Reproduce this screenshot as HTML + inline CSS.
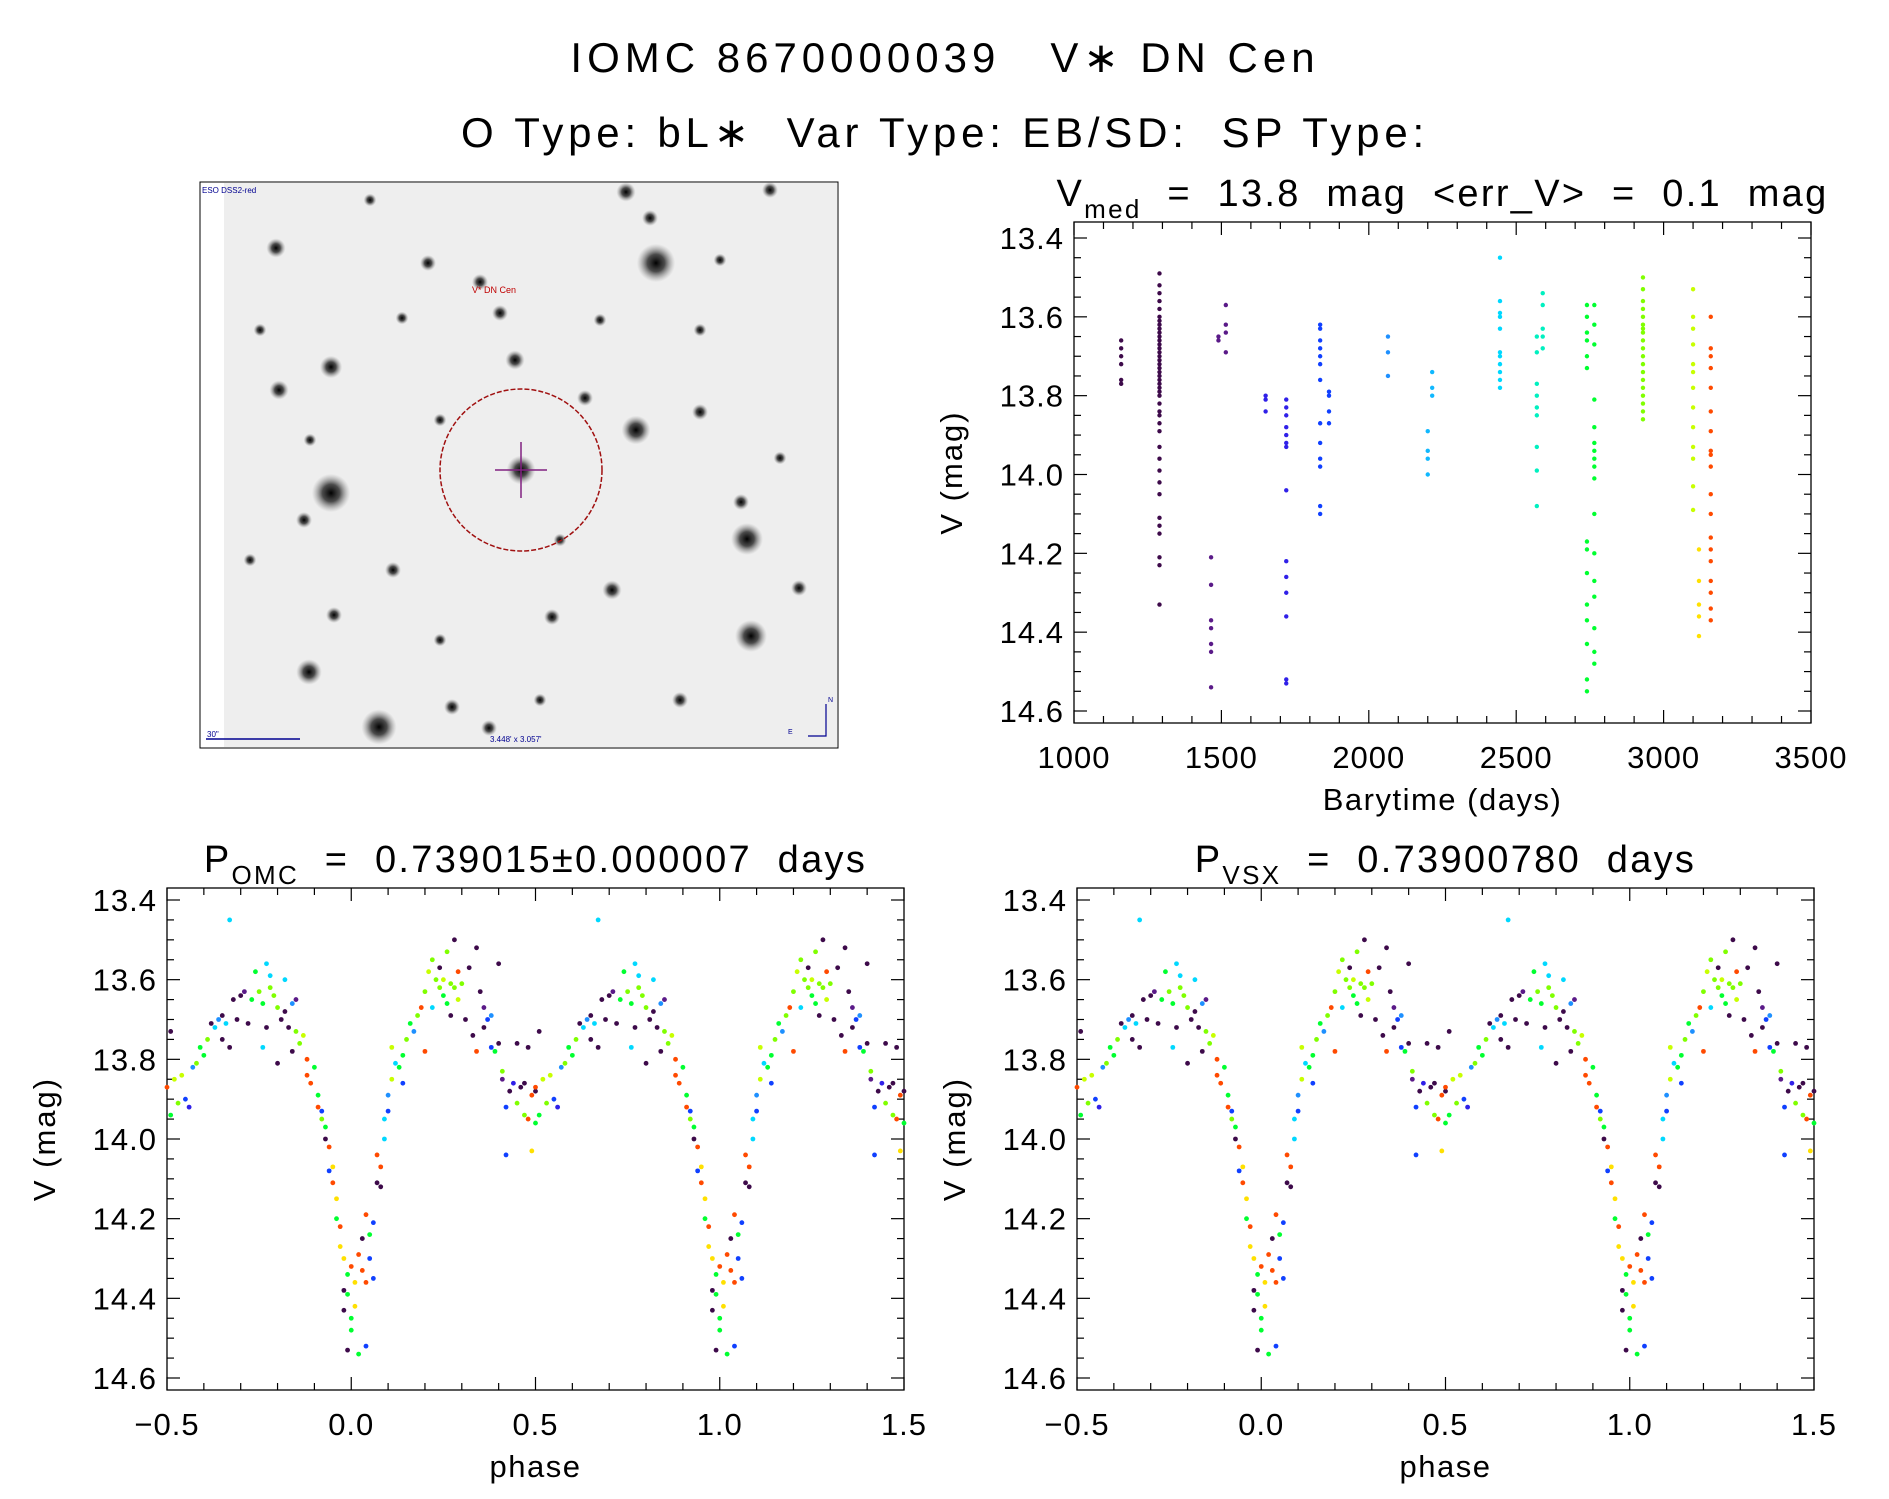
<!DOCTYPE html>
<html><head><meta charset="utf-8"><style>
body{margin:0;background:#fff;}
svg text{font-family:"Liberation Sans",sans-serif;fill:#000;}
</style></head><body>
<svg id="fig" width="1889" height="1494" viewBox="0 0 1889 1494" xmlns="http://www.w3.org/2000/svg">
<text x="945" y="72" font-size="42" letter-spacing="5" text-anchor="middle" xml:space="preserve">IOMC 8670000039   V∗ DN Cen</text>
<text x="945" y="147" font-size="42" letter-spacing="4.8" text-anchor="middle" xml:space="preserve">O Type: bL∗  Var Type: EB/SD:  SP Type:</text>
<g id="img"></g>
<g id="tr"></g>
<g id="bl"></g>
<g id="br"></g>
</svg>
<script>
const palette=["#3d0a4a","#5a1a88","#3020e8","#1040ff","#1e90ff","#10b8ff","#00d8ff","#00f0c0","#00ff30","#80ff00","#c8ff00","#ffe000","#ff4a00"];
const tsGroups=[
[1160,0,[13.66,13.68,13.70,13.72,13.76,13.77]],
[1290,0,[13.49,13.52,13.54,13.56,13.58,13.60,13.61,13.62,13.63,13.64,13.65,13.66,13.67,13.68,13.69,13.70,13.71,13.72,13.73,13.74,13.75,13.76,13.77,13.78,13.79,13.80,13.82,13.84,13.85,13.87,13.89,13.93,13.96,13.99,14.02,14.05,14.11,14.13,14.15,14.21,14.23,14.33]],
[1465,1,[14.21,14.28,14.37,14.39,14.43,14.45,14.54]],
[1490,1,[13.65,13.66]],
[1515,1,[13.57,13.62,13.64,13.69]],
[1650,2,[13.80,13.81,13.84]],
[1720,2,[13.81,13.83,13.85,13.88,13.90,13.92,13.93,14.04,14.22,14.26,14.30,14.36,14.52,14.53]],
[1835,3,[13.62,13.63,13.66,13.68,13.70,13.72,13.76,13.87,13.92,13.96,13.98,14.08,14.10]],
[1865,3,[13.79,13.80,13.84,13.87]],
[2065,4,[13.65,13.69,13.75]],
[2200,5,[13.89,13.94,13.96,14.00]],
[2215,5,[13.74,13.78,13.80]],
[2445,6,[13.45,13.56,13.59,13.60,13.63,13.69,13.70,13.72,13.74,13.76,13.78]],
[2570,7,[13.65,13.69,13.77,13.80,13.83,13.85,13.93,13.99,14.08]],
[2590,7,[13.54,13.57,13.63,13.65,13.68]],
[2740,8,[13.57,13.60,13.64,13.66,13.70,13.73,14.17,14.19,14.25,14.33,14.37,14.43,14.52,14.55]],
[2765,8,[13.57,13.62,13.67,13.81,13.88,13.92,13.94,13.96,13.98,14.01,14.10,14.20,14.27,14.31,14.39,14.45,14.48]],
[2930,9,[13.50,13.53,13.56,13.58,13.60,13.62,13.63,13.64,13.66,13.68,13.70,13.72,13.74,13.76,13.78,13.80,13.82,13.84,13.86]],
[3100,10,[13.53,13.60,13.63,13.67,13.72,13.74,13.78,13.83,13.88,13.93,13.96,14.03,14.09]],
[3120,11,[14.19,14.27,14.33,14.36,14.41]],
[3160,12,[13.60,13.68,13.70,13.73,13.78,13.84,13.89,13.94,13.95,13.98,14.05,14.10,14.16,14.19,14.22,14.27,14.30,14.34,14.37]]
];
const phasePts=[[-0.50,13.87,12],[-0.49,13.73,0],[-0.49,13.94,8],[-0.48,13.85,10],[-0.47,13.91,9],[-0.46,13.84,10],[-0.45,13.90,3],[-0.44,13.92,2],[-0.43,13.82,4],[-0.42,13.81,9],[-0.41,13.77,8],[-0.40,13.79,8],[-0.39,13.75,9],[-0.38,13.71,0],[-0.37,13.72,6],[-0.36,13.70,4],[-0.35,13.75,0],[-0.35,13.69,0],[-0.34,13.71,6],[-0.33,13.45,6],[-0.33,13.77,0],[-0.32,13.65,0],[-0.31,13.70,0],[-0.30,13.64,0],[-0.29,13.63,1],[-0.28,13.71,0],[-0.27,13.65,8],[-0.26,13.58,8],[-0.25,13.63,9],[-0.24,13.66,8],[-0.24,13.77,6],[-0.23,13.56,6],[-0.23,13.72,0],[-0.22,13.62,9],[-0.22,13.59,6],[-0.21,13.64,9],[-0.20,13.81,0],[-0.20,13.67,9],[-0.19,13.70,0],[-0.18,13.60,6],[-0.18,13.68,0],[-0.17,13.72,0],[-0.16,13.66,4],[-0.16,13.78,0],[-0.15,13.65,1],[-0.15,13.73,9],[-0.14,13.76,9],[-0.13,13.74,10],[-0.12,13.80,12],[-0.12,13.84,12],[-0.11,13.86,12],[-0.10,13.82,8],[-0.09,13.89,8],[-0.09,13.92,12],[-0.08,13.93,3],[-0.08,13.95,9],[-0.07,13.97,8],[-0.07,14.00,0],[-0.06,14.02,12],[-0.06,14.08,3],[-0.05,14.07,11],[-0.05,14.11,12],[-0.04,14.15,11],[-0.04,14.20,8],[-0.03,14.22,12],[-0.03,14.27,11],[-0.02,14.30,11],[-0.02,14.38,0],[-0.02,14.43,0],[-0.01,14.34,8],[-0.01,14.39,8],[-0.01,14.53,0],[0.00,14.32,12],[0.00,14.45,8],[0.00,14.48,8],[0.01,14.36,11],[0.01,14.42,11],[0.02,14.29,12],[0.02,14.54,8],[0.03,14.33,12],[0.03,14.25,0],[0.04,14.36,12],[0.04,14.19,12],[0.04,14.52,3],[0.05,14.24,8],[0.05,14.30,3],[0.06,14.21,3],[0.06,14.35,3],[0.07,14.04,12],[0.07,14.11,0],[0.08,14.07,12],[0.08,14.12,0],[0.09,14.00,6],[0.09,13.95,6],[0.10,13.89,4],[0.10,13.93,3],[0.11,13.85,10],[0.11,13.77,10],[0.12,13.81,6],[0.13,13.82,8],[0.14,13.86,3],[0.14,13.79,8],[0.15,13.75,9],[0.16,13.71,8],[0.17,13.73,4],[0.18,13.69,9],[0.19,13.67,12],[0.20,13.63,9],[0.20,13.78,12],[0.21,13.58,10],[0.22,13.55,9],[0.22,13.67,6],[0.23,13.60,9],[0.24,13.62,9],[0.24,13.57,0],[0.25,13.64,8],[0.25,13.60,10],[0.26,13.53,9],[0.26,13.66,8],[0.27,13.61,9],[0.27,13.69,0],[0.28,13.50,0],[0.28,13.62,9],[0.29,13.58,12],[0.29,13.65,10],[0.30,13.61,9],[0.31,13.70,0],[0.32,13.57,0],[0.33,13.74,0],[0.34,13.52,0],[0.34,13.78,12],[0.35,13.63,0],[0.36,13.67,1],[0.36,13.72,0],[0.37,13.70,3],[0.38,13.77,3],[0.38,13.69,4],[0.39,13.78,8],[0.40,13.56,0],[0.40,13.76,0],[0.41,13.85,1],[0.41,13.83,9],[0.42,13.92,3],[0.42,14.04,3],[0.43,13.88,0],[0.44,13.86,2],[0.45,13.91,9],[0.45,13.76,0],[0.46,13.87,0],[0.47,13.94,9],[0.47,13.86,0],[0.48,13.95,12],[0.48,13.77,0],[0.49,13.89,12],[0.49,14.03,11],[0.50,13.96,8],[0.50,13.88,0]];
const yTicks=[13.4,13.6,13.8,14.0,14.2,14.4,14.6];
const yTickLabels=["13.4","13.6","13.8","14.0","14.2","14.4","14.6"];
const timeTicks=[1000,1500,2000,2500,3000,3500];
const phaseTicks=[-0.5,0,0.5,1.0,1.5];
const phaseTickLabels=["\u22120.5","0.0","0.5","1.0","1.5"];
const stars=[[521,470,9],[331,493,12],[379,727,11],[636,430,9],[656,263,12],[747,539,10],[751,636,10],[309,672,8],[276,248,6],[331,367,7],[279,390,6],[428,263,5],[515,360,6],[585,398,5],[700,412,5],[612,590,6],[552,617,5],[480,282,5],[500,313,5],[626,192,6],[770,190,5],[650,218,5],[393,570,5],[334,615,5],[304,520,5],[452,707,5],[489,728,5],[741,502,5],[799,588,5],[780,458,4],[440,640,4],[560,540,4],[680,700,5],[260,330,4],[402,318,4],[310,440,4],[700,330,4],[600,320,4],[440,420,4],[250,560,4],[720,260,4],[370,200,4],[540,700,4]];
const NS="http://www.w3.org/2000/svg";
function mk(parent,tag,attrs){const e=document.createElementNS(NS,tag);for(const k in attrs)e.setAttribute(k,attrs[k]);parent.appendChild(e);return e;}
const img=document.getElementById('img');
const defs=mk(document.getElementById('fig'),'defs',{});
const rg=mk(defs,'radialGradient',{id:'sg'});
mk(rg,'stop',{offset:'0','stop-color':'#000','stop-opacity':'1'});
mk(rg,'stop',{offset:'0.45','stop-color':'#222','stop-opacity':'0.8'});
mk(rg,'stop',{offset:'1','stop-color':'#888','stop-opacity':'0'});
let r=mk(img,'rect',{x:200,y:182,width:638,height:566,fill:'#fff',stroke:'#000','stroke-width':1});

r=mk(img,'rect',{x:224,y:183,width:613,height:564,fill:'#eeeeee'});

stars.forEach(s=>{const c=mk(img,'circle',{cx:s[0],cy:s[1],r:s[2]*1.6,fill:'url(#sg)'});
});
let c=mk(img,'circle',{cx:521,cy:470,r:81,fill:'none',stroke:'#a01010','stroke-width':1.5,'stroke-dasharray':'5 2'});

mk(img,'line',{x1:495,y1:470,x2:547,y2:470,stroke:'#802080','stroke-width':1.5});
mk(img,'line',{x1:521,y1:442,x2:521,y2:498,stroke:'#802080','stroke-width':1.5});
let t=mk(img,'text',{x:472,y:293,'font-size':9});t.textContent="V* DN Cen";t.style.fill='#c00000';

t=mk(img,'text',{x:202,y:193,'font-size':8});t.textContent="ESO DSS2-red";t.style.fill='#000090';

mk(img,'line',{x1:206,y1:739,x2:300,y2:739,stroke:'#000090','stroke-width':1.5});
t=mk(img,'text',{x:207,y:737,'font-size':8});t.textContent="30\"";t.style.fill='#000090';
t=mk(img,'text',{x:490,y:742,'font-size':8});t.textContent="3.448' x 3.057'";t.style.fill='#000090';

mk(img,'polyline',{points:'826,704 826,736 808,736',fill:'none',stroke:'#000090','stroke-width':1.2});
t=mk(img,'text',{x:828,y:702,'font-size':7});t.textContent="N";t.style.fill='#000090';
t=mk(img,'text',{x:788,y:734,'font-size':7});t.textContent="E";t.style.fill='#000090';

function panel(g,P){
  const X=v=>P.x0+(v-P.xmin)/(P.xmax-P.xmin)*(P.x1-P.x0);
  const Y=v=>P.ya+(v-13.4)/1.2*(P.yb-P.ya);
  const f=mk(g,'rect',{x:P.x0,y:P.top,width:P.x1-P.x0,height:P.bot-P.top,fill:'none',stroke:'#000','stroke-width':1.3});
  
  for(let k=0;k<=24;k++){const v=13.4+k*0.05,yy=Y(v),L=(k%4===0)?13:7;
    mk(g,'line',{x1:P.x0,y1:yy,x2:P.x0+L,y2:yy,stroke:'#000','stroke-width':1.2});
    mk(g,'line',{x1:P.x1,y1:yy,x2:P.x1-L,y2:yy,stroke:'#000','stroke-width':1.2});}
  yTicks.forEach((v,i)=>{const tt=mk(g,'text',{x:P.x0-10,y:Y(v)+11,'font-size':31,'letter-spacing':1,'text-anchor':'end'});tt.textContent=yTickLabels[i];
    });
  const nmin=P.minorCount;
  for(let k=0;k<=nmin;k++){const v=P.xmin+k*(P.xmax-P.xmin)/nmin,xx=X(v),L=(k%5===0)?13:7;
    mk(g,'line',{x1:xx,y1:P.bot,x2:xx,y2:P.bot-L,stroke:'#000','stroke-width':1.2});
    mk(g,'line',{x1:xx,y1:P.top,x2:xx,y2:P.top+L,stroke:'#000','stroke-width':1.2});}
  P.xt.forEach((v,i)=>{const tt=mk(g,'text',{x:X(v),y:P.bot+45,'font-size':31,'letter-spacing':1,'text-anchor':'middle'});tt.textContent=P.xtl[i];
    });
  let yt=mk(g,'text',{x:0,y:0,'font-size':31,'letter-spacing':2,'text-anchor':'middle',transform:`translate(${P.x0-112},${(P.top+P.bot)/2}) rotate(-90)`});
  yt.textContent="V (mag)";
  let xt=mk(g,'text',{x:(P.x0+P.x1)/2,y:P.bot+87,'font-size':31,'letter-spacing':1.5,'text-anchor':'middle'});
  xt.textContent=P.xtitle;
  let ti=mk(g,'text',{x:(P.x0+P.x1)/2,y:P.top-16,'font-size':38,'letter-spacing':2.3,'text-anchor':'middle','xml:space':'preserve'});
  ti.innerHTML=P.title;
  return {X,Y};
}
const trP={x0:1074,x1:1811,top:222,bot:723,ya:238,yb:711,xmin:1000,xmax:3500,minorCount:25,xt:timeTicks,xtl:timeTicks.map(String),xtitle:"Barytime (days)",
 title:'V<tspan font-size="26" dy="12">med</tspan><tspan dy="-12" xml:space="preserve">  =  13.8  mag  &lt;err_V&gt;  =  0.1  mag</tspan>'};
const trG=document.getElementById('tr');
const tr=panel(trG,trP);
tsGroups.forEach(gr=>gr[2].forEach(m=>{const p=mk(trG,'circle',{cx:tr.X(gr[0]),cy:tr.Y(m),r:2.2,fill:palette[gr[1]]});
 }));
function phasePanel(id,x0,title){
  const P={x0:x0,x1:x0+737,top:888,bot:1390,ya:900,yb:1378,xmin:-0.5,xmax:1.5,minorCount:20,xt:phaseTicks,xtl:phaseTickLabels,xtitle:"phase",title:title};
  const g=document.getElementById(id);const a=panel(g,P);
  [0,1].forEach(sh=>phasePts.forEach(q=>{const ph=q[0]+sh;if(ph<-0.5||ph>1.5)return;
    const p=mk(g,'circle',{cx:a.X(ph),cy:a.Y(q[1]),r:2.4,fill:palette[q[2]]});
    }));
}
phasePanel('bl',167,'P<tspan font-size="26" dy="12">OMC</tspan><tspan dy="-12" xml:space="preserve">  =  0.739015±0.000007  days</tspan>');
phasePanel('br',1077,'P<tspan font-size="26" dy="12">VSX</tspan><tspan dy="-12" xml:space="preserve">  =  0.73900780  days</tspan>');
</script>
</body></html>
